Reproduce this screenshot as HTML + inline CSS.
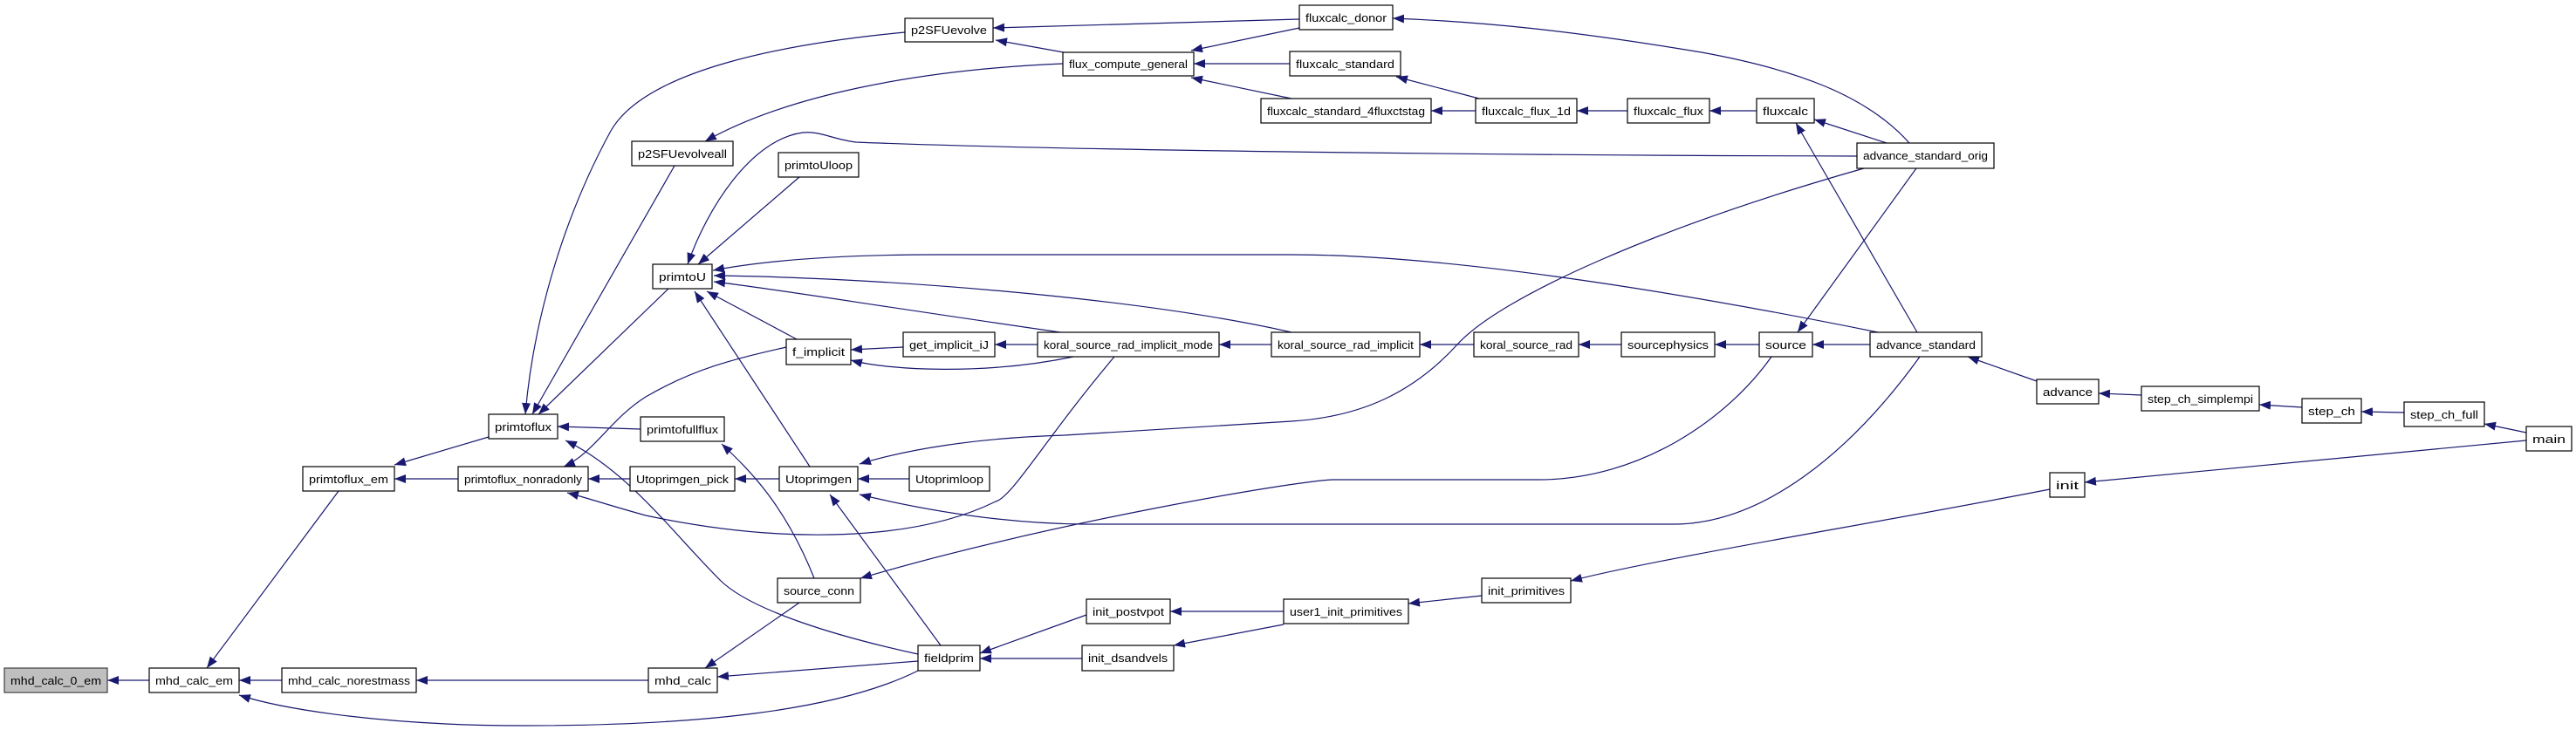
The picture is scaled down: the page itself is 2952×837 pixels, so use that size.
<!DOCTYPE html>
<html><head><meta charset="utf-8"><style>
html,body{margin:0;padding:0;background:#fff;}
svg{display:block;}
text{font-family:"Liberation Sans",sans-serif;font-size:13px;fill:#000;}
</style></head><body>
<svg width="2952" height="837" viewBox="0 0 2952 837" xmlns="http://www.w3.org/2000/svg">
<defs><marker id="a" markerUnits="userSpaceOnUse" markerWidth="13" markerHeight="10" refX="13" refY="5" orient="auto"><path d="M0,0 L13,5 L0,10 z" fill="#191970"/></marker></defs>
<g fill="none" stroke="#191970" stroke-width="1.2" marker-end="url(#a)">
<path d="M171,780 L123,780"/>
<path d="M323,780 L274,780"/>
<path d="M388,563 L237,766"/>
<path d="M1052,769 C960,815 800,832 600,832 C450,832 330,815 274,797"/>
<path d="M743,780 L477,780"/>
<path d="M560,501 L452,533"/>
<path d="M525,549 L452,549"/>
<path d="M1037,37 C900,50 740,80 700,150 C640,260 610,380 602,475"/>
<path d="M773,190 L610,475"/>
<path d="M766,331 L617,475"/>
<path d="M734,492 L639,489"/>
<path d="M1052,750 C960,730 860,700 825,665 C770,610 720,540 648,505"/>
<path d="M901,398 C850,410 800,420 740,455 C700,480 680,520 646,535"/>
<path d="M722,549 L674,549"/>
<path d="M1277,409 C1200,500 1160,570 1141,575 C1050,620 900,625 740,591 C700,580 670,570 650,565"/>
<path d="M1218,73 C1050,80 900,110 808,162"/>
<path d="M1489,22 L1138,32"/>
<path d="M1219,60 L1141,46"/>
<path d="M1489,32 L1365,58"/>
<path d="M1478,73 L1368,73"/>
<path d="M1480,113 L1365,89"/>
<path d="M1695,113 L1600,88"/>
<path d="M1691,127 L1640,127"/>
<path d="M1865,127 L1807,127"/>
<path d="M2013,127 L1959,127"/>
<path d="M2162,164 L2079,137"/>
<path d="M2197,381 L2058,141"/>
<path d="M2188,164 C2140,110 2060,80 1950,60 C1800,35 1700,25 1596,21"/>
<path d="M2128,179 C1700,178 1200,172 981,163 C955,160 940,150 920,152 C860,160 810,240 788,303"/>
<path d="M916,203 L800,303"/>
<path d="M2152,381 C1900,330 1650,292 1480,292 L1070,292 C950,292 870,300 817,310"/>
<path d="M1480,381 C1300,340 1000,318 818,316"/>
<path d="M1215,381 C1000,350 880,330 818,323"/>
<path d="M913,389 L810,334"/>
<path d="M928,535 L796,334"/>
<path d="M1035,398 L975,401"/>
<path d="M1230,409 C1130,430 1020,425 975,413"/>
<path d="M1189,395 L1140,395"/>
<path d="M1457,395 L1397,395"/>
<path d="M1689,395 L1627,395"/>
<path d="M1858,395 L1809,395"/>
<path d="M2016,395 L1965,395"/>
<path d="M2143,395 L2077,395"/>
<path d="M2196,193 L2060,381"/>
<path d="M893,549 L842,549"/>
<path d="M933,663 C900,580 860,540 827,509"/>
<path d="M1042,549 L983,549"/>
<path d="M2136,193 C1900,260 1720,340 1670,395 C1620,450 1560,478 1480,483 L1220,499 C1120,502 1040,515 985,532"/>
<path d="M2200,409 C2120,520 2020,600 1919,601 L1240,601 C1150,600 1060,585 985,567"/>
<path d="M1078,740 L951,567"/>
<path d="M2030,409 C1980,480 1880,550 1763,550 L1527,550 C1480,552 1200,600 986,663"/>
<path d="M916,691 L808,766"/>
<path d="M1052,758 L822,776"/>
<path d="M1245,705 L1123,749"/>
<path d="M1240,755 L1123,755"/>
<path d="M1471,701 L1341,701"/>
<path d="M1471,716 L1345,740"/>
<path d="M1698,683 L1614,692"/>
<path d="M2349,561 C2150,600 1900,640 1800,666"/>
<path d="M2895,505 L2389,553"/>
<path d="M2334,437 L2255,409"/>
<path d="M2454,453 L2405,451"/>
<path d="M2638,467 L2589,464"/>
<path d="M2755,473 L2706,472"/>
<path d="M2895,496 L2847,486"/>
</g>
<g stroke="#000" stroke-width="1.2" fill="#fff">
<rect x="5" y="766" width="118" height="28" fill="#bfbfbf" stroke="#404040"/>
<rect x="171" y="766" width="103" height="28"/>
<rect x="323" y="766" width="154" height="28"/>
<rect x="347" y="535" width="105" height="28"/>
<rect x="560" y="475" width="79" height="28"/>
<rect x="525" y="535" width="149" height="28"/>
<rect x="1037" y="21" width="101" height="27"/>
<rect x="1218" y="60" width="150" height="27"/>
<rect x="724" y="162" width="116" height="28"/>
<rect x="892" y="175" width="92" height="28"/>
<rect x="748" y="303" width="68" height="28"/>
<rect x="901" y="389" width="74" height="29"/>
<rect x="1035" y="381" width="105" height="28"/>
<rect x="1189" y="381" width="208" height="28"/>
<rect x="734" y="478" width="96" height="28"/>
<rect x="722" y="535" width="120" height="28"/>
<rect x="893" y="535" width="90" height="28"/>
<rect x="1042" y="535" width="92" height="28"/>
<rect x="891" y="663" width="95" height="28"/>
<rect x="743" y="766" width="79" height="28"/>
<rect x="1052" y="740" width="71" height="29"/>
<rect x="1245" y="687" width="96" height="28"/>
<rect x="1240" y="740" width="105" height="29"/>
<rect x="1489" y="6" width="107" height="28"/>
<rect x="1478" y="59" width="127" height="28"/>
<rect x="1445" y="113" width="195" height="28"/>
<rect x="1691" y="113" width="116" height="28"/>
<rect x="1865" y="113" width="94" height="28"/>
<rect x="2013" y="113" width="66" height="28"/>
<rect x="2128" y="164" width="157" height="29"/>
<rect x="1457" y="381" width="170" height="28"/>
<rect x="1689" y="381" width="120" height="28"/>
<rect x="1858" y="381" width="107" height="28"/>
<rect x="2016" y="381" width="61" height="28"/>
<rect x="2143" y="381" width="128" height="28"/>
<rect x="1698" y="663" width="102" height="28"/>
<rect x="1471" y="687" width="143" height="28"/>
<rect x="2334" y="435" width="71" height="28"/>
<rect x="2454" y="443" width="135" height="28"/>
<rect x="2638" y="457" width="68" height="28"/>
<rect x="2755" y="461" width="92" height="28"/>
<rect x="2895" y="489" width="52" height="28"/>
<rect x="2349" y="542" width="40" height="28"/>
</g>
<g text-anchor="middle">
<text x="64" y="785" textLength="104" lengthAdjust="spacingAndGlyphs">mhd_calc_0_em</text>
<text x="222.5" y="785" textLength="89" lengthAdjust="spacingAndGlyphs">mhd_calc_em</text>
<text x="400" y="785" textLength="140" lengthAdjust="spacingAndGlyphs">mhd_calc_norestmass</text>
<text x="399.5" y="554" textLength="91" lengthAdjust="spacingAndGlyphs">primtoflux_em</text>
<text x="599.5" y="494" textLength="65" lengthAdjust="spacingAndGlyphs">primtoflux</text>
<text x="599.5" y="554" textLength="135" lengthAdjust="spacingAndGlyphs">primtoflux_nonradonly</text>
<text x="1087.5" y="39" textLength="87" lengthAdjust="spacingAndGlyphs">p2SFUevolve</text>
<text x="1293" y="78" textLength="136" lengthAdjust="spacingAndGlyphs">flux_compute_general</text>
<text x="782" y="181" textLength="102" lengthAdjust="spacingAndGlyphs">p2SFUevolveall</text>
<text x="938" y="194" textLength="78" lengthAdjust="spacingAndGlyphs">primtoUloop</text>
<text x="782" y="322" textLength="54" lengthAdjust="spacingAndGlyphs">primtoU</text>
<text x="938" y="408" textLength="60" lengthAdjust="spacingAndGlyphs">f_implicit</text>
<text x="1087.5" y="400" textLength="91" lengthAdjust="spacingAndGlyphs">get_implicit_iJ</text>
<text x="1293" y="400" textLength="194" lengthAdjust="spacingAndGlyphs">koral_source_rad_implicit_mode</text>
<text x="782" y="497" textLength="82" lengthAdjust="spacingAndGlyphs">primtofullflux</text>
<text x="782" y="554" textLength="106" lengthAdjust="spacingAndGlyphs">Utoprimgen_pick</text>
<text x="938" y="554" textLength="76" lengthAdjust="spacingAndGlyphs">Utoprimgen</text>
<text x="1088" y="554" textLength="78" lengthAdjust="spacingAndGlyphs">Utoprimloop</text>
<text x="938.5" y="682" textLength="81" lengthAdjust="spacingAndGlyphs">source_conn</text>
<text x="782.5" y="785" textLength="65" lengthAdjust="spacingAndGlyphs">mhd_calc</text>
<text x="1087.5" y="759" textLength="57" lengthAdjust="spacingAndGlyphs">fieldprim</text>
<text x="1293" y="706" textLength="82" lengthAdjust="spacingAndGlyphs">init_postvpot</text>
<text x="1292.5" y="759" textLength="91" lengthAdjust="spacingAndGlyphs">init_dsandvels</text>
<text x="1542.5" y="25" textLength="93" lengthAdjust="spacingAndGlyphs">fluxcalc_donor</text>
<text x="1541.5" y="78" textLength="113" lengthAdjust="spacingAndGlyphs">fluxcalc_standard</text>
<text x="1542.5" y="132" textLength="181" lengthAdjust="spacingAndGlyphs">fluxcalc_standard_4fluxctstag</text>
<text x="1749" y="132" textLength="102" lengthAdjust="spacingAndGlyphs">fluxcalc_flux_1d</text>
<text x="1912" y="132" textLength="80" lengthAdjust="spacingAndGlyphs">fluxcalc_flux</text>
<text x="2046" y="132" textLength="52" lengthAdjust="spacingAndGlyphs">fluxcalc</text>
<text x="2206.5" y="183" textLength="143" lengthAdjust="spacingAndGlyphs">advance_standard_orig</text>
<text x="1542" y="400" textLength="156" lengthAdjust="spacingAndGlyphs">koral_source_rad_implicit</text>
<text x="1749" y="400" textLength="106" lengthAdjust="spacingAndGlyphs">koral_source_rad</text>
<text x="1911.5" y="400" textLength="93" lengthAdjust="spacingAndGlyphs">sourcephysics</text>
<text x="2046.5" y="400" textLength="47" lengthAdjust="spacingAndGlyphs">source</text>
<text x="2207" y="400" textLength="114" lengthAdjust="spacingAndGlyphs">advance_standard</text>
<text x="1749" y="682" textLength="88" lengthAdjust="spacingAndGlyphs">init_primitives</text>
<text x="1542.5" y="706" textLength="129" lengthAdjust="spacingAndGlyphs">user1_init_primitives</text>
<text x="2369.5" y="454" textLength="57" lengthAdjust="spacingAndGlyphs">advance</text>
<text x="2521.5" y="462" textLength="121" lengthAdjust="spacingAndGlyphs">step_ch_simplempi</text>
<text x="2672" y="476" textLength="54" lengthAdjust="spacingAndGlyphs">step_ch</text>
<text x="2801" y="480" textLength="78" lengthAdjust="spacingAndGlyphs">step_ch_full</text>
<text x="2921" y="508" textLength="38" lengthAdjust="spacingAndGlyphs">main</text>
<text x="2369" y="561" textLength="26" lengthAdjust="spacingAndGlyphs">init</text>
</g>
</svg>
</body></html>
